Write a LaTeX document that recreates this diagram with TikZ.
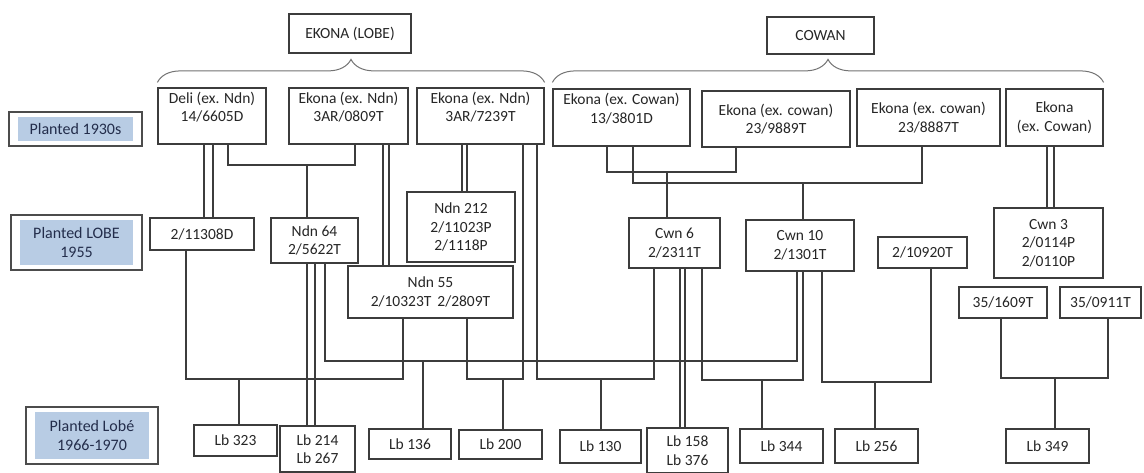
\documentclass[tikz,border=0pt]{standalone}
\usepackage{fontspec}
\setmainfont{Carlito}
\usetikzlibrary{decorations.pathreplacing,calc}
\definecolor{linegray}{RGB}{60,60,60}
\definecolor{labfill}{RGB}{184,204,228}
\definecolor{labtext}{RGB}{35,45,75}
\begin{document}
\begin{tikzpicture}[x=1pt,y=-1pt,
  box/.style={draw=linegray, line width=1.2pt, fill=white, inner sep=0pt, align=center, text=black!85, font=\fontsize{15.5}{18.5}\selectfont},
  hi/.style={text depth=18pt},
  conn/.style={draw=linegray, line width=1.2pt},
  lab/.style={draw=black!70, line width=1.8pt, inner sep=0pt, align=center, text=labtext, font=\fontsize{16}{19}\selectfont,
    path picture={\fill[labfill] ([shift={(9pt,-5pt)}]path picture bounding box.north west) rectangle ([shift={(-9pt,5pt)}]path picture bounding box.south east);}},
  brace/.style={draw=black!55, line width=1pt, decorate, decoration={brace, amplitude=23pt}}
]
\fill[white] (0,0) rectangle (1144,473);
\useasboundingbox (0,0) rectangle (1144,473);

% row labels
\node[lab, minimum width=133pt, minimum height=34pt] (l1930) at (75.5,129) {Planted 1930s};
\node[lab, minimum width=131pt, minimum height=55pt] (l1955) at (76.5,242.5) {Planted LOBE\\1955};
\node[lab, minimum width=132pt, minimum height=57pt] (l1966) at (92,435.5) {Planted Lobé\\1966-1970};

% group headers
\node[box, minimum width=122pt, minimum height=39pt] (ekona) at (350,33.5) {EKONA (LOBE)};
\node[box, minimum width=107pt, minimum height=37pt] (cowan) at (820.5,35.5) {COWAN};

% 1930s row
\node[box,hi, minimum width=108pt, minimum height=56pt] (deli) at (212,116) {Deli (ex. Ndn)\\14/6605D};
\node[box,hi, minimum width=119pt, minimum height=56pt] (e0809) at (348.5,116) {Ekona (ex. Ndn)\\3AR/0809T};
\node[box,hi, minimum width=127pt, minimum height=56pt] (e7239) at (480.5,116) {Ekona (ex. Ndn)\\3AR/7239T};
\node[box,hi, minimum width=137pt, minimum height=57pt] (c3801) at (621.5,117.5) {Ekona (ex. Cowan)\\13/3801D};
\node[box, minimum width=148pt, minimum height=56pt] (c9889) at (776,119) {Ekona (ex. cowan)\\23/9889T};
\node[box, minimum width=143pt, minimum height=57pt] (c8887) at (928.5,117.5) {Ekona (ex. cowan)\\23/8887T};
\node[box, minimum width=97pt, minimum height=57pt] (cwx) at (1054.5,117.5) {Ekona\\(ex. Cowan)};

% braces
\draw[brace] ([yshift=5pt]deli.north west) -- ([yshift=5pt]e7239.north east);
\draw[brace] ([yshift=6pt]c3801.north west) -- ([yshift=6pt]cwx.north east);

% 1955 row
\node[box, minimum width=104pt, minimum height=32pt] (n11308) at (202,234) {2/11308D};
\node[box, minimum width=87pt, minimum height=45pt] (ndn64) at (314.5,240.5) {Ndn 64\\2/5622T};
\node[box, minimum width=108pt, minimum height=70pt] (ndn212) at (461,227) {Ndn 212\\2/11023P\\2/1118P};
\node[box, minimum width=165pt, minimum height=52pt] (ndn55) at (430.5,292) {Ndn 55\\2/10323T\hspace{6pt}2/2809T};
\node[box, minimum width=91pt, minimum height=50pt] (cwn6) at (674.5,243) {Cwn 6\\2/2311T};
\node[box, minimum width=108pt, minimum height=51pt] (cwn10) at (800,245.5) {Cwn 10\\2/1301T};
\node[box, minimum width=89pt, minimum height=31pt] (n10920) at (922.5,252.5) {2/10920T};
\node[box, minimum width=109pt, minimum height=70pt] (cwn3) at (1048.5,243) {Cwn 3\\2/0114P\\2/0110P};
\node[box, minimum width=88pt, minimum height=31pt] (n1609) at (1003,302.5) {35/1609T};
\node[box, minimum width=81pt, minimum height=31pt] (n0911) at (1100.5,302.5) {35/0911T};

% 1966-1970 row
\node[box, minimum width=83pt, minimum height=31pt] (lb323) at (235.5,440.5) {Lb 323};
\node[box, minimum width=75pt, minimum height=46pt] (lb214) at (317.5,449) {Lb 214\\Lb 267};
\node[box, minimum width=82pt, minimum height=30pt] (lb136) at (410,444) {Lb 136};
\node[box, minimum width=83pt, minimum height=29pt] (lb200) at (500.5,444.5) {Lb 200};
\node[box, minimum width=81pt, minimum height=33pt] (lb130) at (600.5,446.5) {Lb 130};
\node[box, minimum width=81pt, minimum height=45pt] (lb158) at (687.5,450.5) {Lb 158\\Lb 376};
\node[box, minimum width=83pt, minimum height=34pt] (lb344) at (781.5,446) {Lb 344};
\node[box, minimum width=83pt, minimum height=34pt] (lb256) at (876.5,446) {Lb 256};
\node[box, minimum width=83pt, minimum height=34pt] (lb349) at (1047.5,446) {Lb 349};

% junctions
\coordinate (j1) at (307,165);
\coordinate (j2) at (503,379);
\coordinate (j3) at (601,379);
\coordinate (j4) at (667,172);
\coordinate (j5) at (803,183);
\coordinate (j6) at (239,379);
\coordinate (j7) at (423,361);
\coordinate (j8) at (762,380);
\coordinate (j9) at (875,382);
\coordinate (j10) at (1055,378);

% double links
\draw[conn] (deli.south -| 204,0) -- (n11308.north -| 204,0);
\draw[conn] (deli.south -| 213,0) -- (n11308.north -| 213,0);
\draw[conn] (e0809.south -| 383,0) -- (ndn55.north -| 383,0);
\draw[conn] (e0809.south -| 389,0) -- (ndn55.north -| 389,0);
\draw[conn] (e7239.south -| 462,0) -- (ndn212.north -| 462,0);
\draw[conn] (e7239.south -| 467,0) -- (ndn212.north -| 467,0);
\draw[conn] (cwx.south -| 1047,0) -- (cwn3.north -| 1047,0);
\draw[conn] (cwx.south -| 1054,0) -- (cwn3.north -| 1054,0);
\draw[conn] (ndn64.south -| 307,0) -- (lb214.north -| 307,0);
\draw[conn] (ndn64.south -| 315,0) -- (lb214.north -| 315,0);
\draw[conn] (cwn6.south -| 680,0) -- (lb158.north -| 680,0);
\draw[conn] (cwn6.south -| 685,0) -- (lb158.north -| 685,0);

% crosses
\draw[conn] (deli.south -| 228,0) |- (j1) -| (e0809.south -| 355,0);
\draw[conn] (j1) -- (ndn64.north -| j1);
\draw[conn] (ndn55.south -| 467,0) |- (j2) -| (e7239.south -| 523,0);
\draw[conn] (j2) -- (lb200.north -| j2);
\draw[conn] (e7239.south -| 537,0) |- (j3) -| (cwn6.south -| 654,0);
\draw[conn] (j3) -- (lb130.north -| j3);
\draw[conn] (c3801.south -| 607,0) |- (j4) -| (c9889.south -| 736,0);
\draw[conn] (j4) -- (cwn6.north -| j4);
\draw[conn] (c3801.south -| 633,0) |- (j5) -| (c8887.south -| 922,0);
\draw[conn] (j5) -- (cwn10.north -| j5);
\draw[conn] (n11308.south -| 186,0) |- (j6) -| (ndn55.south -| 403,0);
\draw[conn] (j6) -- (lb323.north -| j6);
\draw[conn] (ndn64.south -| 325,0) |- (j7) -| (cwn10.south -| 797,0);
\draw[conn] (j7) -- (lb136.north -| j7);
\draw[conn] (cwn6.south -| 702,0) |- (j8) -| (cwn10.south -| 803,0);
\draw[conn] (j8) -- (lb344.north -| j8);
\draw[conn] (cwn10.south -| 822,0) |- (j9) -| (n10920.south -| 931,0);
\draw[conn] (j9) -- (lb256.north -| j9);
\draw[conn] (n1609.south -| 1001,0) |- (j10) -| (n0911.south -| 1108,0);
\draw[conn] (j10) -- (lb349.north -| j10);
\end{tikzpicture}
\end{document}
